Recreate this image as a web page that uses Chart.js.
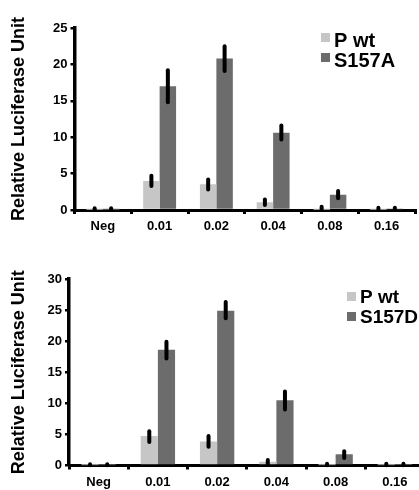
<!DOCTYPE html>
<html><head><meta charset="utf-8">
<script src="https://cdn.jsdelivr.net/npm/chart.js"></script>
<style>
html,body{margin:0;padding:0;background:#fff;overflow:hidden;width:419px;height:490px;position:relative;}
#c1{position:absolute;left:0;top:0;}
#c2{position:absolute;left:0;top:245px;}
</style></head><body>
<canvas id="c1" width="419" height="245"></canvas>
<canvas id="c2" width="430" height="245"></canvas>
<script>
// ---- data ----
const categories = ['Neg', '0.01', '0.02', '0.04', '0.08', '0.16'];

// top panel
const pwtTop      = [0.05, 4.0, 3.55, 1.05, 0.05, 0.05];
const pwtTopLow   = [0.05, 3.3, 2.8, 0.7, 0.1, 0.1];
const pwtTopHigh  = [0.25, 4.7, 4.2, 1.45, 0.45, 0.3];
const s157a       = [0.05, 17.0, 20.8, 10.6, 2.1, 0.1];
const s157aLow    = [0.05, 14.8, 19.1, 9.7, 1.6, 0.1];
const s157aHigh   = [0.25, 19.2, 22.5, 11.6, 2.6, 0.3];
const yTicksTop   = [0, 5, 10, 15, 20, 25];

// bottom panel
const pwtBot      = [0.05, 4.75, 3.85, 0.6, 0.05, 0.05];
const pwtBotLow   = [0.05, 3.8, 3.0, 0.2, 0.05, 0.05];
const pwtBotHigh  = [0.2, 5.5, 4.75, 0.9, 0.3, 0.3];
const s157d       = [0.05, 18.6, 24.9, 10.5, 1.8, 0.1];
const s157dLow    = [0.05, 17.2, 23.7, 9.0, 1.2, 0.05];
const s157dHigh   = [0.2, 19.9, 26.3, 11.9, 2.3, 0.3];
const yTicksBot   = [0, 5, 10, 15, 20, 25, 30];

const seriesNames = { wt: 'P wt', a: 'S157A', d: 'S157D' };
const yTitle = 'Relative Luciferase Unit';

// ---- styling ----
const FONT = '"Liberation Sans", Arial, Helvetica, sans-serif';
const LIGHT = '#c6c6c6';
const DARK = '#6c6c6c';

const errorBars = {
  id: 'errorBars',
  afterDatasetsDraw(chart) {
    const ctx = chart.ctx, ys = chart.scales.y;
    ctx.save();
    ctx.strokeStyle = '#000';
    ctx.lineWidth = 4;
    ctx.lineCap = 'round';
    chart.data.datasets.forEach((ds, i) => {
      chart.getDatasetMeta(i).data.forEach((bar, j) => {
        ctx.beginPath();
        ctx.moveTo(bar.x, ys.getPixelForValue(ds.errLow[j]));
        ctx.lineTo(bar.x, ys.getPixelForValue(ds.errHigh[j]));
        ctx.stroke();
      });
    });
    ctx.restore();
  }
};

const boxLegend = {
  id: 'boxLegend',
  afterDraw(chart, args, o) {
    const ctx = chart.ctx;
    ctx.save();
    ctx.font = 'bold ' + o.size + 'px ' + FONT;
    ctx.textBaseline = 'alphabetic';
    ctx.textAlign = 'left';
    chart.data.datasets.forEach((ds, i) => {
      const base = o.y + i * o.gap;
      ctx.fillStyle = ds.backgroundColor;
      ctx.fillRect(o.x, base - o.lift - o.box, o.box, o.box);
      ctx.fillStyle = '#000';
      ctx.fillText(ds.label, o.textX, base);
    });
    ctx.restore();
  }
};

function makeChart(id, names, vals, lows, highs, yTicks, g) {
  return new Chart(document.getElementById(id), {
    type: 'bar',
    data: {
      labels: categories,
      datasets: [0, 1].map(k => ({
        label: names[k],
        data: vals[k],
        errLow: lows[k],
        errHigh: highs[k],
        backgroundColor: k === 0 ? LIGHT : DARK,
        borderWidth: 0,
        categoryPercentage: 0.58,
        barPercentage: 1.0
      }))
    },
    options: {
      responsive: false,
      animation: false,
      devicePixelRatio: 1,
      layout: { padding: g.padding },
      plugins: {
        legend: { display: false },
        tooltip: { enabled: false },
        boxLegend: g.legend
      },
      scales: {
        x: {
          grid: { display: true, drawOnChartArea: false, drawTicks: true, tickLength: 4, color: '#000', lineWidth: 3, offset: true },
          border: { display: true, color: '#000', width: 3 },
          ticks: { color: '#000', font: { family: FONT, size: 13, weight: 'bold' }, padding: 5, maxRotation: 0, autoSkip: false },
          afterFit(s) { s.height = g.xHeight; }
        },
        y: {
          min: 0,
          max: yTicks[yTicks.length - 1],
          afterBuildTicks(s) { s.ticks = yTicks.map(v => ({ value: v })); },
          grid: { display: true, drawOnChartArea: false, drawTicks: true, tickLength: 4, color: '#000', lineWidth: 2.5 },
          border: { display: true, color: '#000', width: 3.5 },
          ticks: { color: '#000', font: { family: FONT, size: 13, weight: 'bold' }, padding: 3 },
          title: { display: true, text: yTitle, color: '#000', font: { family: FONT, size: 18, weight: 'bold' }, padding: { top: 4, bottom: 4 } },
          afterFit(s) { s.width = g.yWidth; }
        }
      }
    },
    plugins: [errorBars, boxLegend]
  });
}

makeChart('c1', [seriesNames.wt, seriesNames.a],
  [pwtTop, s157a], [pwtTopLow, s157aLow], [pwtTopHigh, s157aHigh], yTicksTop,
  { padding: { left: 4, right: 4, top: 28, bottom: 0 }, yWidth: 70.5, xHeight: 35,
    legend: { x: 321, textX: 334, y: 47, gap: 20, box: 9, lift: 5, size: 20 } });

makeChart('c2', [seriesNames.wt, seriesNames.d],
  [pwtBot, s157d], [pwtBotLow, s157dLow], [pwtBotHigh, s157dHigh], yTicksBot,
  { padding: { left: 4, right: 5.5, top: 34, bottom: 0 }, yWidth: 65, xHeight: 24.5,
    legend: { x: 347, textX: 360, y: 58, gap: 20, box: 9, lift: 2, size: 19 } });
</script>
</body></html>
